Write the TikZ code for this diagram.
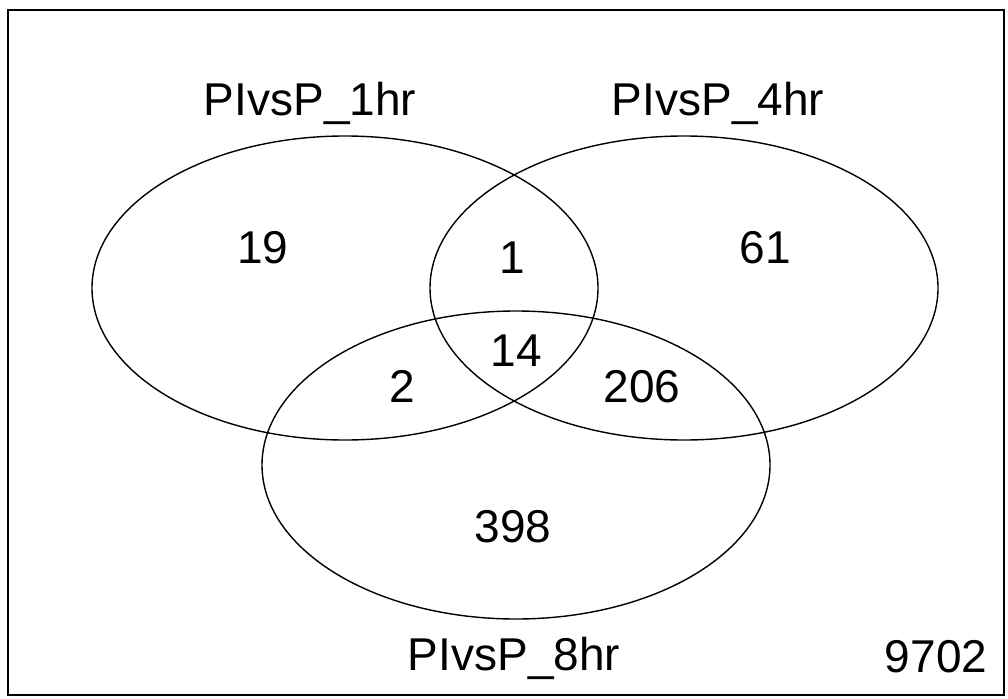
\documentclass[tikz,border=0pt]{standalone}
\usepackage{fontspec}
\setmainfont{Liberation Sans}
\begin{document}
\begin{tikzpicture}[x=1pt,y=-1pt,
  setcurve/.style={draw=black,line width=1.4pt},
  lbl/.style={anchor=base,inner sep=0pt,font=\fontsize{46}{55}\selectfont}]
\useasboundingbox (0,0) rectangle (1008,698);
\draw[line width=2.2pt] (8,10) rectangle (1004,695);
\draw[setcurve] (345,288) ellipse [x radius=253, y radius=152];
\draw[setcurve] (684,288) ellipse [x radius=254, y radius=152];
\draw[setcurve] (516,465) ellipse [x radius=254, y radius=154];
\node[lbl] (l1) at (310,115) {PIvsP\_1hr};
\node[lbl] (l4) at (718,115) {PIvsP\_4hr};
\node[lbl] (l8) at (514,670) {PIvsP\_8hr};
\node[lbl] (n19) at (263,263) {19};
\node[lbl] (n61) at (765,263) {61};
\node[lbl] (n1) at (512,273) {1};
\node[lbl] (n14) at (516,366) {14};
\node[lbl] (n2) at (402,402) {2};
\node[lbl] (n206) at (642,402) {206};
\node[lbl] (n398) at (513,542) {398};
\node[lbl] (n9702) at (936,672) {9702};
\end{tikzpicture}
\end{document}
